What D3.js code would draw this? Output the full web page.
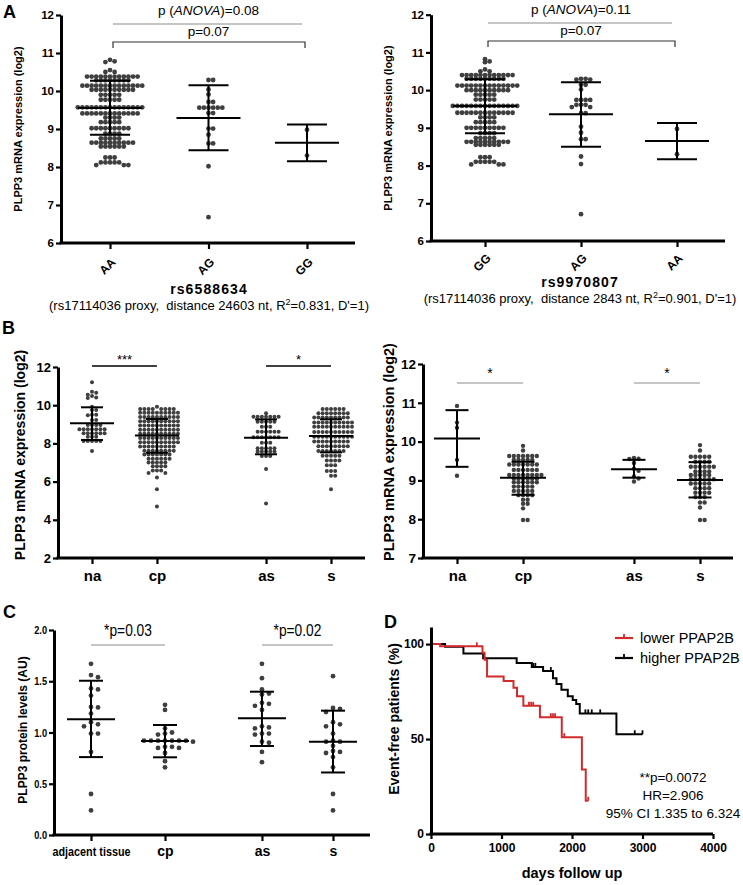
<!DOCTYPE html>
<html><head><meta charset="utf-8">
<script src="https://cdn.jsdelivr.net/npm/d3@7"></script>
<style>
body{margin:0;background:#fff}
svg{display:block}
text{font-family:"Liberation Sans",Arial,sans-serif;fill:#000}
</style></head><body>
<svg id="c" width="743" height="885"></svg>
<script>
// ===================== DATA =====================
// Panel A (left) rs6588634
const aLeftCats = ["AA","AG","GG"];
const aLeftAA = [10.82,10.78,10.76,10.55,10.5,10.5,
 10.38,10.38,10.38,10.38,10.38,10.38,10.38,10.38,10.38,10.38,10.38,10.38,
 10.28,10.28,10.28,10.28,10.28,10.28,10.28,10.28,
 10.14,10.14,10.14,10.14,10.14,10.14,10.14,10.14,10.14,10.14,10.14,10.14,10.14,10.14,
 10.03,10.03,10.03,10.03,10.03,10.03,10.03,10.03,10.03,10.03,
 9.9,9.9,9.9,9.9,9.9, 9.77,9.77,9.77,9.77,9.77,
 9.57,9.57,9.57,9.57,9.57,9.57,9.57,9.57,9.57,9.57,9.57,9.57,9.57,9.57,9.57,
 9.41,9.41,9.41,9.41,9.41,9.41,9.41,9.41,9.41,9.41,9.41,9.41,9.41,
 9.3,9.3,9.3,9.3, 9.18,9.18,9.18,9.18,9.18,
 9.02,9.02,9.02,9.02,9.02,9.02,9.02,9.02,9.02,
 8.88,8.88,8.88,8.88, 8.75,8.75,8.75,8.75,8.75,
 8.64,8.64,8.64,8.64,8.64,8.64,8.64,8.64,8.64,8.64,
 8.54,8.54,8.54,8.54,8.54,8.54,
 8.25,8.25,8.25, 8.12,8.12,8.12,8.12,8.12, 8.05,8.05,8.05];
const aLeftAG = [10.29,10.29,10.04,9.91,9.71,9.71,9.56,9.56,9.56,9.56,9.56,9.56,9.42,9.42,9.01,9.01,8.85,8.62,8.62,8.02,6.68];
const aLeftGG = [8.98,8.3];
const aLeftMean = [9.55,9.29,8.64];
const aLeftSdLo = [8.85,8.44,8.15];
const aLeftSdHi = [10.27,10.15,9.12];

// Panel A (right) rs9970807
const aRightCats = ["GG","AG","AA"];
const aRightGG = [10.82,10.76,10.74,10.55,10.5,10.5,
 10.4,10.4,10.4,10.4,10.4,10.4,10.4,10.4,10.4,10.4,10.4,10.4,
 10.3,10.3,10.3,10.3,10.3,10.3,10.3,10.3,10.3,
 10.12,10.12,10.12,10.12,10.12,10.12,10.12,10.12,10.12,10.12,10.12,10.12,10.12,10.12,
 10.0,10.0,10.0,10.0,10.0,10.0,10.0,10.0,10.0,10.0,
 9.88,9.88,9.88,9.88,9.88, 9.75,9.75,9.75,9.75,9.75,
 9.58,9.58,9.58,9.58,9.58,9.58,9.58,9.58,9.58,9.58,9.58,9.58,9.58,9.58,9.58,
 9.4,9.4,9.4,9.4,9.4,9.4,9.4,9.4,9.4,9.4,9.4,9.4,9.4,
 9.28,9.28,9.28,9.28, 9.15,9.15,9.15,9.15,9.15,
 9.0,9.0,9.0,9.0,9.0,9.0,9.0,9.0,9.0,
 8.86,8.86,8.86,8.86, 8.73,8.73,8.73,8.73,8.73,
 8.63,8.63,8.63,8.63,8.63,8.63,8.63,8.63,8.63,8.63,
 8.55,8.55,8.55,8.55,8.55,8.55,
 8.22,8.22,8.22, 8.1,8.1,8.1,8.1,8.1, 8.03,8.03,8.03];
const aRightAG = [10.3,10.3,10.28,10.28,10.14,10.14,10.02,9.74,9.74,9.74,9.74,9.61,9.61,9.61,9.55,9.55,9.39,9.39,9.03,8.87,8.7,8.7,8.24,8.04,6.71];
const aRightAA = [8.97,8.3];
const aRightMean = [9.58,9.36,8.65];
const aRightSdLo = [8.86,8.5,8.17];
const aRightSdHi = [10.29,10.21,9.13];

// Panel B (left)
const bCats = ["na","cp","as","s"];
const bLeftNa = [11.2,10.7,10.65,10.55,10.48,10.4,10.38,9.92,9.75,9.75,9.5,9.5,9.48,9.23,9.23,
 8.96,8.96,8.96,8.96,8.74,8.74,8.74,8.74,8.74,8.74,8.74,8.53,8.53,8.53,8.53,8.53,8.53,
 8.35,8.35,8.35,8.13,8.13,8.13,8.13,8.13,7.6];
const bLeftCp = [9.92,
 9.8,9.8,9.8,9.8,9.8,9.8,9.8,9.8,
 9.6,9.6,9.6,9.6,9.6,9.6,9.6,9.6,9.6,9.6,
 9.38,9.38,9.38,9.38,9.38,9.38,9.38,9.38,9.38,9.38,
 9.16,9.16,9.16,9.16,9.16,9.16,9.16,9.16,9.16,9.16,
 8.94,8.94,8.94,8.94,8.94,8.94,8.94,8.94,8.94,8.94,
 8.72,8.72,8.72,8.72,8.72,8.72,8.72,8.72,8.72,8.72,
 8.5,8.5,8.5,8.5,8.5,8.5,8.5,8.5,8.5,8.5,
 8.28,8.28,8.28,8.28,8.28,8.28,8.28,8.28,8.28,8.28,
 8.06,8.06,8.06,8.06,8.06,8.06,8.06,8.06,8.06,8.06,
 7.84,7.84,7.84,7.84,7.84,7.84,7.84,7.84,7.84,
 7.62,7.62,7.62,7.62,7.62,7.62,7.62,7.62,
 7.42,7.42,7.42,7.42,7.42,7.42,7.42,
 7.2,7.2,7.2,7.2,7.2,7.2,
 7.0,7.0,7.0,7.0,7.0,
 6.8,6.8,6.8,6.8, 6.58,6.58,6.58, 6.45,6.45, 6.22, 5.6, 4.7];
const bLeftAs = [9.58,9.4,9.4,9.4,9.4,9.4,9.4,9.4,9.14,9.14,9.14,9.14,9.14,8.87,8.87,8.87,
 8.61,8.61,8.61,8.61,8.61,8.61,8.32,8.32,8.32,8.32,8.32,8.32,8.32,8.04,8.04,8.04,
 7.74,7.74,7.74,7.74,7.74,7.57,7.57,7.57,7.57,7.57,7.34,7.34,7.34,6.66,4.85];
const bLeftS = [9.8,9.8,9.8,9.8,9.8,9.8,
 9.58,9.58,9.58,9.58,9.58,9.58,9.58,9.58,
 9.35,9.35,9.35,9.35,9.35,9.35,9.35,9.35,9.35,
 9.1,9.1,9.1,9.1,9.1,9.1,9.1,9.1,9.1,9.1,
 8.87,8.87,8.87,8.87,8.87,8.87,8.87,8.87,8.87,8.87,
 8.6,8.6,8.6,8.6,8.6,8.6,8.6,8.6,8.6,8.6,
 8.35,8.35,8.35,8.35,8.35,8.35,8.35,8.35,8.35,8.35,
 8.1,8.1,8.1,8.1,8.1,8.1,8.1,8.1,8.1,
 7.85,7.85,7.85,7.85,7.85,7.85,7.85,7.85,
 7.6,7.6,7.6,7.6,7.6,7.6,7.6,
 7.35,7.35,7.35,7.35,7.35, 7.1,7.1,7.1,7.1, 6.85,6.85,6.85, 6.55,6.55,6.55, 6.3,6.3, 5.6];
const bLeftMean = [9.05,8.42,8.3,8.39];
const bLeftSdLo = [8.18,7.51,7.43,7.53];
const bLeftSdHi = [9.89,9.28,9.26,9.26];

// Panel B (right)
const bRightNa = [10.92,10.49,10.36,9.53,9.12];
const bRightCp = [9.89,9.77,
 9.63,9.63,9.63,9.63,9.63,9.63,9.63, 9.53,9.53,9.53,9.53,9.53,
 9.41,9.41,9.41,9.41,9.41,9.41,9.41, 9.27,9.27,9.27,9.27,9.27,9.27,
 9.14,9.14,9.14,9.14,9.14,9.14,9.14,9.14, 9.04,9.04,9.04,9.04,9.04,9.04,
 8.95,8.95,8.95,8.95,8.95,8.95, 8.84,8.84,8.84,8.84,8.84,
 8.73,8.73,8.73,8.73,8.73, 8.62,8.62,8.62,8.62, 8.5,8.5, 8.4,8.4, 8.28, 7.98,7.98];
const bRightAs = [9.58,9.56,9.55,9.45,9.3,9.25,9.1,9.05,8.97];
const bRightS = [9.91,9.77,9.61,9.61,9.61,9.61,9.61,9.48,9.48,9.48,9.48,
 9.35,9.35,9.35,9.35,9.35,9.35,9.23,9.23,9.23,9.23,9.14,9.14,9.14,9.14,9.14,
 9.03,9.03,9.03,9.03,9.03,9.03,8.92,8.92,8.92,8.92,8.92,8.8,8.8,8.8,8.8,
 8.68,8.68,8.68,8.68,8.57,8.57,8.57,8.43,8.43,8.3,7.98,7.98];
const bRightMean = [10.08,9.07,9.29,9.01];
const bRightSdLo = [9.35,8.63,9.07,8.56];
const bRightSdHi = [10.81,9.48,9.53,9.47];

// Panel C
const cCats = ["adjacent tissue","cp","as","s"];
const cAdj = [1.67,1.56,1.54,1.43,1.42,1.36,1.25,1.245,1.185,1.1,1.08,1.06,0.99,0.99,0.81,0.40,0.24];
const cCp = [1.27,1.22,1.04,1.0,0.98,0.99,0.92,0.92,0.92,0.92,0.91,0.92,0.92,0.92,0.86,0.85,0.86,0.85,0.8,0.72,0.66];
const cAs = [1.67,1.53,1.42,1.38,1.37,1.29,1.28,1.26,1.22,1.06,1.05,1.04,0.99,0.99,0.98,0.91,0.9,0.81,0.71];
const cS = [1.55,1.24,1.23,1.2,1.1,1.08,1.06,0.99,0.92,0.91,0.91,0.87,0.82,0.81,0.8,0.76,0.66,0.40,0.24];
const cMean = [1.13,0.917,1.138,0.91];
const cSdLo = [0.76,0.758,0.868,0.61];
const cSdHi = [1.505,1.073,1.398,1.213];

// Panel D (Kaplan-Meier)
const kmLowT = [0,130,730,760,795,1030,1170,1220,1310,1545,1855,2140,2195];
const kmLowS = [100,98.8,95.5,91.8,83,80.5,77,72.5,67.5,61.5,51,34,17.5];
const kmLowEnd = 2230;
const kmLowCens = [650,1390,1420,1450,1700,1730,1760,1890,2230];
const kmHighT = [0,200,460,740,1215,1430,1590,1730,1780,1850,1940,2010,2060,2110,2630];
const kmHighS = [100,98.6,95,92.6,90,88,85.8,82,79,76,72.5,70.5,68.5,63.5,52.5];
const kmHighEnd = 3000;
const kmHighCens = [1450,1480,1700,2190,2230,2280,2400,2890,3000];
const kmXTicks = [0,1000,2000,3000,4000];
const kmYTicks = [0,50,100];
const kmLegend = ["lower PPAP2B","higher PPAP2B"];

// ===================== DRAWING =====================
const svg = d3.select("#c");
const FONT = '"Liberation Sans", Arial, sans-serif';
const DOT = "#3f3f3f";
const GRAY = "#8c8c8c";
const RED = "#d22b2b";

// row-wise scatter layout (points of (nearly) equal value side by side)
function swarm(vals, y, dia, vthr) {
  const idx = vals.map((v,i)=>i).sort((a,b)=>vals[b]-vals[a]);
  const placed = [], off = new Array(vals.length);
  idx.forEach(i => {
    const py = y(vals[i]);
    const near = placed.filter(p => Math.abs(p.y - py) < vthr);
    const cands = [0];
    near.forEach(p => cands.push(p.x + dia, p.x - dia));
    cands.sort((a,b) => (Math.abs(a) - Math.abs(b)) || (b - a));
    let best = 0;
    for (const c of cands) {
      if (near.every(p => Math.abs(p.x - c) >= dia - 0.01)) { best = c; break; }
    }
    placed.push({x:best, y:py}); off[i] = best;
  });
  return off;
}

function styleAxis(a, fs, weight) {
  a.attr("font-size", fs).attr("font-family", FONT).attr("font-weight", weight || "bold");
  a.select(".domain").attr("stroke","#000").attr("stroke-width",3);
  a.selectAll(".tick line").attr("stroke","#000").attr("stroke-width",2.2);
  a.selectAll(".tick text").attr("fill","#000");
}

function dotPanel(o) {
  const g = svg.append("g");
  const y = d3.scaleLinear().domain(o.yDomain).range(o.yRange);
  const x = d3.scaleLinear().domain([0, o.slots[o.slots.length-1]]).range(o.xRange);
  const y0 = y(o.yDomain[0]);
  o.groups.forEach((vals, gi) => {
    const cx = x(o.slots[gi]);
    const off = swarm(vals, y, o.dia, o.vthr);
    g.append("g").selectAll("circle").data(vals).join("circle")
      .attr("cx", (d,i) => cx + off[i]).attr("cy", d => y(d)).attr("r", o.r).attr("fill", DOT);
    const m = o.mean[gi], lo = o.lo[gi], hi = o.hi[gi];
    const eg = g.append("g").attr("stroke","#000").attr("stroke-width",2);
    eg.append("line").attr("x1",cx-o.mhw).attr("x2",cx+o.mhw).attr("y1",y(m)).attr("y2",y(m));
    eg.append("line").attr("x1",cx).attr("x2",cx).attr("y1",y(lo)).attr("y2",y(hi));
    eg.append("line").attr("x1",cx-o.chw).attr("x2",cx+o.chw).attr("y1",y(lo)).attr("y2",y(lo));
    eg.append("line").attr("x1",cx-o.chw).attr("x2",cx+o.chw).attr("y1",y(hi)).attr("y2",y(hi));
  });
  const ya = g.append("g").attr("transform",`translate(${o.axisX},0)`)
    .call(d3.axisLeft(y).tickValues(o.yTicks).tickFormat(o.yFmt || d3.format("d")).tickSize(5).tickSizeOuter(0).tickPadding(2));
  styleAxis(ya, o.yFs);
  g.append("line").attr("x1",o.axisX-1.5).attr("x2",o.axisEnd).attr("y1",y0).attr("y2",y0)
    .attr("stroke","#000").attr("stroke-width",3);
  const xa = g.append("g").attr("transform",`translate(0,${y0})`)
    .call(d3.axisBottom(x).tickValues(o.slots).tickFormat((d,i)=>o.cats[i]).tickSize(6).tickSizeOuter(0).tickPadding(o.xPad || 4));
  styleAxis(xa, o.xFs);
  xa.select(".domain").remove();
  return {g, x, y, xa, ya};
}

// ---------- Panel A left ----------
const pAL = dotPanel({groups:[aLeftAA,aLeftAG,aLeftGG], cats:aLeftCats, mean:aLeftMean, lo:aLeftSdLo, hi:aLeftSdHi,
  yDomain:[6,12], yRange:[243,15], slots:[0,1,2], xRange:[110,307], axisX:61, axisEnd:355,
  yTicks:[6,7,8,9,10,11,12], yFs:11.5, xFs:12, r:2.4, dia:4.6, vthr:3, mhw:32, chw:20});
pAL.xa.selectAll(".tick text").attr("text-anchor","end").attr("y",0).attr("dy",0)
  .attr("transform","translate(6,20) rotate(-45)");

// ---------- Panel A right ----------
const pAR = dotPanel({groups:[aRightGG,aRightAG,aRightAA], cats:aRightCats, mean:aRightMean, lo:aRightSdLo, hi:aRightSdHi,
  yDomain:[6,12], yRange:[241,14.7], slots:[0,1,2], xRange:[485,677], axisX:431, axisEnd:725,
  yTicks:[6,7,8,9,10,11,12], yFs:11.5, xFs:12, r:2.4, dia:4.6, vthr:3, mhw:32, chw:20});
pAR.xa.selectAll(".tick text").attr("text-anchor","end").attr("y",0).attr("dy",0)
  .attr("transform","translate(6,18) rotate(-45)");

// ---------- Panel B left ----------
const pBL = dotPanel({groups:[bLeftNa,bLeftCp,bLeftAs,bLeftS], cats:bCats, mean:bLeftMean, lo:bLeftSdLo, hi:bLeftSdHi,
  yDomain:[2,12], yRange:[558,367], slots:[0,1,2.68,3.68], xRange:[92,331], axisX:58, axisEnd:365,
  yTicks:[2,4,6,8,10,12], yFs:13, xFs:15, xPad:6, r:2.0, dia:4.2, vthr:3, mhw:22, chw:11});

// ---------- Panel B right ----------
const pBR = dotPanel({groups:[bRightNa,bRightCp,bRightAs,bRightS], cats:bCats, mean:bRightMean, lo:bRightSdLo, hi:bRightSdHi,
  yDomain:[7,12], yRange:[558,364], slots:[0,1,2.68,3.68], xRange:[457,700], axisX:423, axisEnd:733,
  yTicks:[7,8,9,10,11,12], yFs:13.5, xFs:15, xPad:6, r:2.2, dia:4.6, vthr:3.2, mhw:23, chw:11.5});

// ---------- Panel C ----------
const NX = 0.8; // condensed face emulation
const pC = dotPanel({groups:[cAdj,cCp,cAs,cS], cats:cCats, mean:cMean, lo:cSdLo, hi:cSdHi,
  yDomain:[0,2], yRange:[835,630], slots:[0,1,2.31,3.27], xRange:[91,333], axisX:54, axisEnd:370,
  yTicks:[0,0.5,1,1.5,2], yFmt:d3.format(".1f"), yFs:11.5, xFs:14, xPad:5,
  r:2.4, dia:7, vthr:4.5, mhw:24, chw:12});
pC.ya.selectAll(".tick text").attr("transform",`scale(${NX},1)`).attr("x",-7/NX);
pC.xa.selectAll(".tick text").filter((d,i)=>i===0).attr("font-size",13.5).attr("transform",`scale(${NX},1)`);

// ---------- Panel labels ----------
[["A",3,18],["B",2,334],["C",3,618],["D",384,628]].forEach(([t,x,y]) =>
  svg.append("text").attr("x",x).attr("y",y).attr("font-size",18).attr("font-weight","bold").text(t));

// ---------- y-axis titles ----------
function yTitle(x, y, t, fs) {
  svg.append("text").attr("transform",`translate(${x},${y}) rotate(-90)`).attr("text-anchor","middle")
    .attr("font-size",fs).attr("font-weight","bold").text(t);
}
yTitle(22, 129, "PLPP3 mRNA expression (log2)", 11);
yTitle(392, 128, "PLPP3 mRNA expression (log2)", 11);
yTitle(25, 455, "PLPP3 mRNA expression (log2)", 14);
yTitle(394, 452, "PLPP3 mRNA expression (log2)", 14.5);
yTitle(27, 730, "PLPP3 protein levels (AU)", 12);
yTitle(399, 719, "Event-free patients (%)", 14);

// ---------- Panel A annotations ----------
function anova(x, y, val) {
  const t = svg.append("text").attr("x",x).attr("y",y).attr("text-anchor","middle").attr("font-size",13.5);
  t.append("tspan").text("p (");
  t.append("tspan").attr("font-style","italic").text("ANOVA");
  t.append("tspan").text(")=" + val);
}
function bracketA(p, yLine, yBr, ann, pval, ty1, ty2) {
  const xa = p.x(0), xb = p.x(2);
  const cx = (xa + xb) / 2;
  anova(cx, ty1, ann);
  svg.append("line").attr("x1",xa+3).attr("x2",xb-5).attr("y1",yLine).attr("y2",yLine).attr("stroke",GRAY).attr("stroke-width",1.2);
  svg.append("text").attr("x",cx).attr("y",ty2).attr("text-anchor","middle").attr("font-size",13.5).text("p=" + pval);
  svg.append("path").attr("d",`M${xa+3},${yBr+6}V${yBr}H${xb-2}V${yBr+6}`).attr("fill","none").attr("stroke","#333").attr("stroke-width",1.2);
}
bracketA(pAL, 24, 42, "0.08", "0.07", 15, 36);
bracketA(pAR, 23, 41, "0.11", "0.07", 14, 35);

function subTitle(x, yb, ys, bold, pre, sup, post) {
  svg.append("text").attr("x",x).attr("y",yb).attr("text-anchor","middle").attr("font-size",14)
    .attr("font-weight","bold").attr("letter-spacing",1.1).text(bold);
  const t = svg.append("text").attr("x",x).attr("y",ys).attr("text-anchor","middle").attr("font-size",13).style("white-space","pre");
  t.append("tspan").text(pre);
  t.append("tspan").attr("font-size",9).attr("dy",-5).text(sup);
  t.append("tspan").attr("dy",5).text(post);
}
subTitle(209, 294, 310, "rs6588634", "(rs17114036 proxy,  distance 24603 nt, R", "2", "=0.831, D'=1)");
subTitle(580, 287, 303, "rs9970807", "(rs17114036 proxy,  distance 2843 nt, R", "2", "=0.901, D'=1)");

// ---------- significance lines ----------
function sigLine(p, a, b, yl, txt, ty, color, sw, fs, sx) {
  const xa = p.x(a), xb = p.x(b), cx = (xa + xb) / 2;
  svg.append("line").attr("x1",xa).attr("x2",xb).attr("y1",yl).attr("y2",yl).attr("stroke",color).attr("stroke-width",sw);
  const t = svg.append("text").attr("text-anchor","middle").attr("font-size",fs).text(txt);
  if (sx) t.attr("transform",`translate(${cx},${ty}) scale(${sx},1)`);
  else t.attr("x",cx).attr("y",ty);
}
sigLine(pBL, 0, 1, 366, "***", 364, "#000", 1.6, 13);
sigLine(pBL, 2.68, 3.68, 366, "*", 364, "#000", 1.6, 13);
sigLine(pBR, 0, 1, 383, "*", 378, GRAY, 1.2, 14);
sigLine(pBR, 2.68, 3.68, 383, "*", 378, GRAY, 1.2, 14);
sigLine(pC, 0, 1, 645, "*p=0.03", 636, GRAY, 1.2, 16, 0.86);
sigLine(pC, 2.31, 3.27, 645, "*p=0.02", 636, GRAY, 1.2, 16, 0.86);

// ---------- Panel D ----------
const kx = d3.scaleLinear().domain([0,4000]).range([431,713]);
const ky = d3.scaleLinear().domain([0,109]).range([834,627]);
const gD = svg.append("g");
function kmPath(T, S, end) {
  const pts = T.map((t,i)=>[t,S[i]]); pts.push([end, S[S.length-1]]);
  return d3.line().x(d=>kx(d[0])).y(d=>ky(d[1])).curve(d3.curveStepAfter)(pts);
}
function kmCurve(T, S, end, cens, color) {
  gD.append("path").attr("d", kmPath(T,S,end)).attr("fill","none").attr("stroke",color).attr("stroke-width",2);
  gD.append("g").selectAll("line").data(cens).join("line")
    .attr("x1",d=>kx(d)).attr("x2",d=>kx(d))
    .attr("y1",d=>ky(S[d3.bisectRight(T,d)-1])).attr("y2",d=>ky(S[d3.bisectRight(T,d)-1])-4)
    .attr("stroke",color).attr("stroke-width",1.8);
}
kmCurve(kmHighT, kmHighS, kmHighEnd, kmHighCens, "#000");
kmCurve(kmLowT, kmLowS, kmLowEnd, kmLowCens, RED);
const kya = gD.append("g").attr("transform","translate(431,0)")
  .call(d3.axisLeft(ky).tickValues(kmYTicks).tickFormat(d3.format("d")).tickSize(5).tickSizeOuter(0).tickPadding(2));
styleAxis(kya, 12);
const kxa = gD.append("g").attr("transform","translate(0,834)")
  .call(d3.axisBottom(kx).tickValues(kmXTicks).tickFormat(d3.format("d")).tickSize(5).tickSizeOuter(0).tickPadding(4));
styleAxis(kxa, 12);
kxa.select(".domain").attr("d","M429.5,0H713");
svg.append("text").attr("x",kx(2000)).attr("y",878).attr("text-anchor","middle").attr("font-size",14.5)
  .attr("font-weight","bold").text("days follow up");
[[RED,638],["#000",658]].forEach(([c,yy],i) => {
  svg.append("line").attr("x1",615).attr("x2",633).attr("y1",yy).attr("y2",yy).attr("stroke",c).attr("stroke-width",2.2);
  svg.append("line").attr("x1",624).attr("x2",624).attr("y1",yy).attr("y2",yy-4).attr("stroke",c).attr("stroke-width",1.8);
  svg.append("text").attr("x",640).attr("y",yy+5).attr("font-size",14.5).text(kmLegend[i]);
});
[["**p=0.0072",782],["HR=2.906",800],["95% CI 1.335 to 6.324",818]].forEach(([t,yy]) =>
  svg.append("text").attr("x",673).attr("y",yy).attr("text-anchor","middle").attr("font-size",13.5).text(t));
</script>
</body></html>
